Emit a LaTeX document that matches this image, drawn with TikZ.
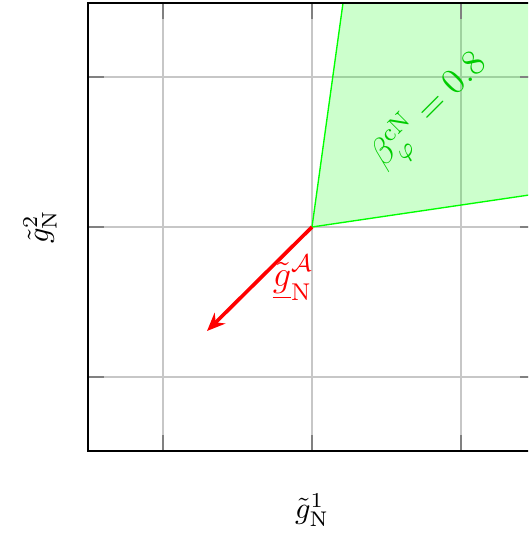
\documentclass[tikz,border=0pt]{standalone}
\usetikzlibrary{arrows.meta}
\begin{document}
\begin{tikzpicture}[x=0.33pt,y=0.33pt,
  gridline/.style={draw=black!22,line width=0.45pt},
  tickline/.style={draw=black!50,line width=0.45pt},
  axisframe/.style={draw=black,line width=0.6pt},
  regionfill/.style={fill=green,fill opacity=0.2,draw=none},
  regionedge/.style={draw=green,line width=0.45pt},
  gradarrow/.style={draw=red,line width=1.2pt,-{Stealth[length=6pt,width=5pt]}},
  lbl/.style={inner sep=1pt}]
\useasboundingbox (0,0) rectangle (528,536);
\clip (0,0) rectangle (528,536);
% coordinates
\coordinate (O) at (312,309);
\coordinate (T) at (343,533);
\coordinate (TR) at (536,533);
\coordinate (R) at (536,342);
\coordinate (A) at (207,205);
% grid
\foreach \gx in {163,312,461} \draw[gridline] (\gx,85) -- (\gx,533);
\foreach \gy in {159,309,459} \draw[gridline] (88,\gy) -- (536,\gy);
% region
\fill[regionfill] (O) -- (T) -- (TR) -- (R) -- cycle;
\draw[regionedge] (T) -- (O) -- (R);
% ticks
\foreach \gx in {163,312,461} {
  \draw[tickline] (\gx,85) -- (\gx,101);
  \draw[tickline] (\gx,517) -- (\gx,533);}
\foreach \gy in {159,309,459} {
  \draw[tickline] (88,\gy) -- (104,\gy);
  \draw[tickline] (520,\gy) -- (536,\gy);}
% frame
\draw[axisframe] (88,85) rectangle (536,533);
% arrow
\draw[gradarrow] (O) -- (A);
\node[lbl,text=red,font=\large] (la) at (293,258) {$\underline{\tilde g}_{\mathrm{N}}^{\mathcal{A}}$};
\node[lbl,text=green!80!black,rotate=45,font=\large] (lb) at (430,425) {$\beta_\varphi^{\mathrm{cN}} = 0.8$};
% axis labels
\node[lbl] (xl) at (312,26) {$\tilde g_{\mathrm{N}}^{1}$};
\node[lbl,rotate=90] (yl) at (40,309) {$\tilde g_{\mathrm{N}}^{2}$};
\end{tikzpicture}
\end{document}
